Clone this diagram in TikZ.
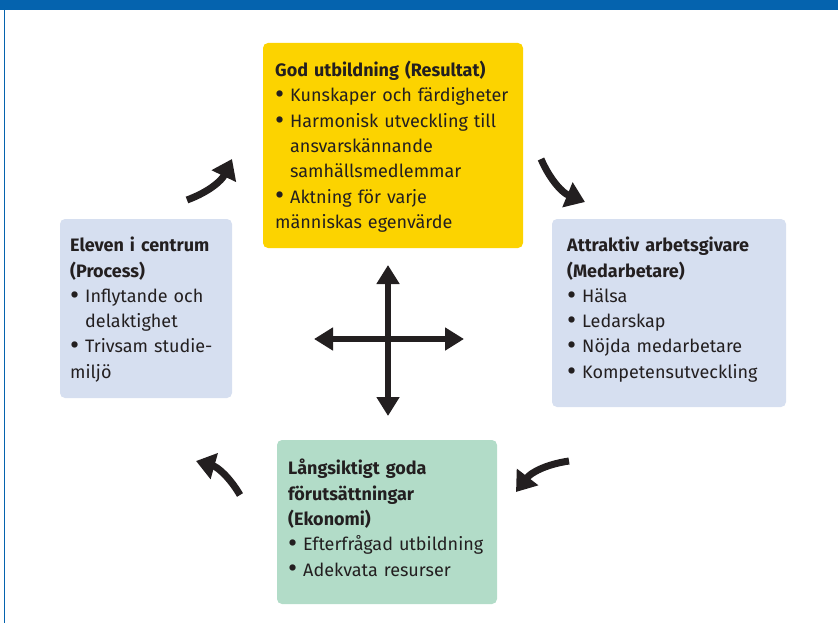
\documentclass[tikz,border=0pt]{standalone}
\usepackage{fontspec}
\setmainfont{Fira Sans}
\usetikzlibrary{arrows.meta,positioning}

\definecolor{topblue}{HTML}{0563AE}
\definecolor{resyellow}{HTML}{FCD300}
\definecolor{boxblue}{HTML}{D6DFF0}
\definecolor{boxgreen}{HTML}{B2DCC8}
\definecolor{ink}{HTML}{231F20}

\newcommand{\bul}{\par\noindent\hangindent=15pt\hangafter=1%
  \makebox[15pt][l]{\raisebox{-0.1em}{\scalebox{1.55}{\textbullet}}}}
\newcommand{\hd}[1]{\noindent\textbf{#1}}

\tikzset{
  box/.style={rounded corners=5pt,anchor=north west,align=left,text=ink,
    inner xsep=12pt,inner ysep=0pt,text depth=0pt,
    font=\fontsize{18}{25.3}\selectfont},
  turn/.style={line width=7pt,ink,-{Triangle[length=19pt,width=26pt]}},
  cross/.style={line width=6.5pt,ink,{Triangle[length=19pt,width=22pt]}-{Triangle[length=19pt,width=22pt]}}
}

\begin{document}
\begin{tikzpicture}[x=1pt,y=-1pt]
\useasboundingbox (0,0) rectangle (838,623);
\fill[topblue] (0,0) rectangle (838,10);
\draw[topblue,line width=1pt] (4,10) -- (4,623);

% the four boxes
\fill[resyellow,rounded corners=5pt] (263,43) rectangle (523,248);
\node[box,text width=250pt] (res) at (263,61) {\hd{God utbildning (Resultat)}
  \bul Kunskaper och färdigheter
  \bul Harmonisk utveckling till\newline ansvarskännande\newline samhällsmedlemmar
  \bul Aktning för varje\newline människas egenvärde};

\fill[boxblue,rounded corners=5pt] (60,219) rectangle (232,398);
\node[box,text width=160pt] (pro) at (58,237) {\hd{Eleven i centrum}\\ \hd{(Process)}
  \bul Inflytande och\newline delaktighet
  \bul Trivsam studie-\newline miljö};

\fill[boxblue,rounded corners=5pt] (552,219) rectangle (786,407);
\node[box,text width=220pt] (med) at (555,237) {\hd{Attraktiv arbetsgivare}\\ \hd{(Medarbetare)}
  \bul Hälsa
  \bul Ledarskap
  \bul Nöjda medarbetare
  \bul Kompetensutveckling};

\fill[boxgreen,rounded corners=5pt] (277,440) rectangle (497,604);
\node[box,text width=215pt] (eko) at (276,459) {\hd{Långsiktigt goda}\\ \hd{förutsättningar}\\ \hd{(Ekonomi)}
  \bul Efterfrågad utbildning
  \bul Adekvata resurser};

% curved arrows between the boxes
\coordinate (tlA) at (187,200);
\coordinate (tlB) at (232,159);
\coordinate (trA) at (541,159);
\coordinate (trB) at (585,202);
\coordinate (brA) at (569,461);
\coordinate (brB) at (516,492);
\coordinate (blA) at (240,495);
\coordinate (blB) at (196,461);
\draw[turn] (tlA) to[bend right=22] (tlB);
\draw[turn] (trA) to[bend right=22] (trB);
\draw[turn] (brA) to[bend right=22] (brB);
\draw[turn] (blA) to[bend right=22] (blB);

% the cross
\coordinate (up) at (388,265);
\coordinate (down) at (388,416);
\coordinate (left) at (314,339);
\coordinate (right) at (464,339);
\draw[cross] (up) -- (down);
\draw[cross] (left) -- (right);
\end{tikzpicture}
\end{document}
